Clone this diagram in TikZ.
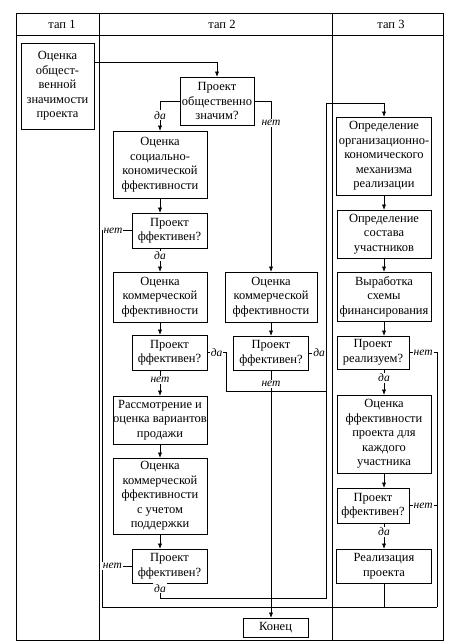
\documentclass[tikz,border=0pt]{standalone}
\usepackage{fontspec}
\setmainfont{Liberation Serif}
\usetikzlibrary{arrows.meta}
\begin{document}
\begin{tikzpicture}[x=1pt,y=-1pt,
  box/.style 2 args={draw, line width=0.6pt, align=center, inner sep=0pt,
     minimum width=#1, minimum height=#2, font=\fontsize{12.5}{14.5}\selectfont},
  hd/.style={font=\fontsize{12.5}{14.5}\selectfont, inner sep=0pt},
  lbl/.style={fill=white, inner sep=1pt, font=\fontsize{11.5}{12}\selectfont\itshape},
  ln/.style={line width=0.5pt},
  arr/.style={ln, -{Latex[length=5pt,width=4pt]}}]
\useasboundingbox (0,0) rectangle (475,642);
% frame
\draw[line width=0.6pt] (16,13) rectangle (443,640);
\draw[line width=0.6pt] (16,35) -- (443,35);
\draw[line width=0.6pt] (99,13) -- (99,640);
\draw[line width=0.6pt] (332,13) -- (332,640);
\node[hd] (h1) at (62,24) {тап 1};
\node[hd] (h2) at (222,24) {тап 2};
\node[hd] (h3) at (391,24) {тап 3};
% column 1
\node[box={73pt}{86pt}] (A) at (57.5,86) {Оценка\\общест-\\венной\\значимости\\проекта};
% column 2
\node[box={74pt}{48pt}] (B) at (217,101) {Проект\\общественно\\значим?};
\node[box={94pt}{67pt}] (C) at (160,164.5) {Оценка\\социально-\\кономической\\ффективности};
\node[box={75pt}{35pt}] (D1) at (169.5,230.5) {Проект\\ффективен?};
\node[box={94pt}{50pt}] (E1) at (160,297) {Оценка\\коммерческой\\ффективности};
\node[box={75pt}{35pt}] (D3) at (169.5,352.5) {Проект\\ффективен?};
\node[box={94pt}{48pt}] (F) at (160,420) {Рассмотрение и\\оценка вариантов\\продажи};
\node[box={94pt}{76pt}] (G) at (160,496) {Оценка\\коммерческой\\ффективности\\с учетом\\поддержки};
\node[box={75pt}{34pt}] (D4) at (169.5,566) {Проект\\ффективен?};
\node[box={92pt}{50pt}] (E2) at (271,297) {Оценка\\коммерческой\\ффективности};
\node[box={75pt}{34pt}] (D2) at (271,353) {Проект\\ффективен?};
\node[box={65pt}{19pt}] (End) at (275.5,627.5) {Конец};
% column 3
\node[box={95pt}{78pt}] (H) at (384,156) {Определение\\организационно-\\кономического\\механизма\\реализации};
\node[box={94pt}{48pt}] (I) at (384,234) {Определение\\состава\\участников};
\node[box={94pt}{49pt}] (J) at (384,296.5) {Выработка\\схемы\\финансирования};
\node[box={72pt}{33pt}] (K) at (373,352.5) {Проект\\реализуем?};
\node[box={94pt}{78pt}] (L) at (384,434) {Оценка\\ффективности\\проекта для\\каждого\\участника};
\node[box={72pt}{35pt}] (M) at (373,505.5) {Проект\\ффективен?};
\node[box={95pt}{34pt}] (N) at (384,566) {Реализация\\проекта};
% junction coordinates
\coordinate (p1) at (217,62);
\coordinate (k1) at (102,607);
\coordinate (k2) at (437,607);
\coordinate (q1) at (226,391);
\coordinate (q2) at (326,598);
\coordinate (q3) at (326,103);
% connectors
\draw[arr] ([yshift=24pt]A.east) -- (p1) -- (B.north);
\draw[arr] (B.west) -| node[lbl,pos=0.74]{да} (C.north);
\draw[arr] (B.east) -| node[lbl,pos=0.565]{нет} (E2.north);
\draw[arr] (C.south) -- (C.south |- D1.north);
\draw[arr] (D1.south -| C.south) -- node[lbl,pos=0.33]{да} (E1.north);
\draw[ln] (D1.west) -- node[lbl,pos=0.63]{нет} (D1.west -| k1) -- (k1) -- (k2);
\draw[arr] (E1.south) -- (E1.south |- D3.north);
\draw[arr] (D3.south -| E1.south) -- node[lbl,pos=0.38]{нет} (F.north);
\draw[ln] (D3.east) -- node[lbl]{да} (D3.east -| q1) -- (q1) -- (q1 -| q2);
\draw[arr] (F.south) -- (G.north);
\draw[arr] (G.south) -- (G.south |- D4.north);
\draw[ln] (D4.west) -- node[lbl,pos=0.65]{нет} (D4.west -| k1);
\draw[arr] (D4.south -| G.south) -- node[lbl,pos=0.33]{да} (G.south |- q2) -- (q2) -- (q3) -| (H.north);
\draw[arr] (E2.south) -- (D2.north);
\draw[ln] (D2.east) -- node[lbl,pos=0.6]{да} (D2.east -| q2);
\draw[arr] (D2.south) -- node[lbl,pos=0.055]{нет} (D2.south |- End.north);
\draw[arr] (H.south) -- (I.north);
\draw[arr] (I.south) -- (J.north);
\draw[arr] (J.south) -- (J.south |- K.north);
\draw[arr] (K.south -| J.south) -- node[lbl,pos=0.33]{да} (L.north);
\draw[ln] (K.east) -- node[lbl]{нет} (K.east -| k2) -- (k2);
\draw[arr] (L.south) -- (L.south |- M.north);
\draw[arr] (M.south -| L.south) -- node[lbl,pos=0.33]{да} (N.north);
\draw[ln] (M.east) -- node[lbl]{нет} (M.east -| k2);
\draw[ln] (N.south) -- (N.south |- k2);
\end{tikzpicture}
\end{document}
